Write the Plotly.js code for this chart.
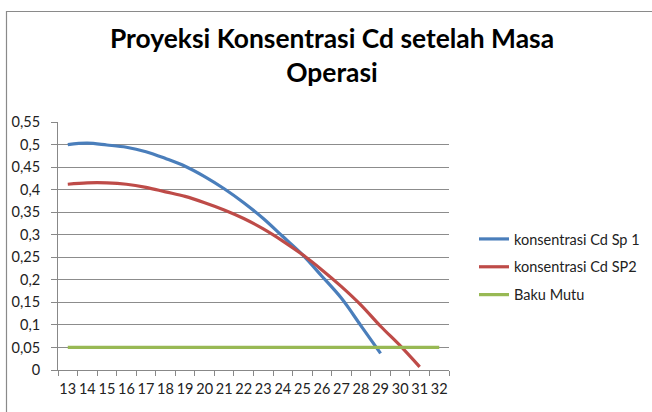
<!DOCTYPE html>
<html>
<head>
<meta charset="utf-8">
<script src="https://cdn.plot.ly/plotly-3.0.1.min.js"></script>
<style>html,body{margin:0;padding:0;background:#fff;}#chart{width:652px;height:412px;}</style>
</head>
<body>
<div id="chart"></div>
<script>
const categories = ["13","14","15","16","17","18","19","20","21","22","23","24","25","26","27","28","29","30","31","32"];
const sp1Categories = categories.slice(0, 17);
const sp1Values = [0.500, 0.503, 0.499, 0.494, 0.484, 0.469, 0.452, 0.429, 0.402, 0.371, 0.336, 0.296, 0.256, 0.208, 0.159, 0.098, 0.037];
const sp2Categories = categories.slice(0, 19);
const sp2Values = [0.412, 0.415, 0.415, 0.412, 0.405, 0.395, 0.385, 0.371, 0.355, 0.336, 0.313, 0.286, 0.256, 0.222, 0.185, 0.144, 0.097, 0.054, 0.007];
const bakuMutu = categories.map(() => 0.05);
const seriesNames = ["konsentrasi Cd Sp 1", "konsentrasi Cd SP2", "Baku Mutu"];
const titleText = "Proyeksi Konsentrasi Cd setelah Masa<br>Operasi";

const font = "Lato, 'Open Sans', sans-serif";
const traces = [
  {x: sp1Categories, y: sp1Values, name: seriesNames[0], type: "scatter", mode: "lines",
   line: {color: "#4A7EBB", width: 3.2, shape: "spline"}, legendgroup: "a"},
  {x: sp2Categories, y: sp2Values, name: seriesNames[1], type: "scatter", mode: "lines",
   line: {color: "#BE4B48", width: 3.2, shape: "spline"}, legendgroup: "b"},
  {x: categories, y: bakuMutu, name: seriesNames[2], type: "scatter", mode: "lines",
   line: {color: "#98B954", width: 3.2}, legendgroup: "c"}
];
const layout = {
  width: 652, height: 412,
  margin: {l: 58, r: 203, t: 122, b: 42, autoexpand: false},
  paper_bgcolor: "#fff", plot_bgcolor: "#fff",
  separators: ", ",
  font: {family: font, size: 14.5, color: "#222"},
  annotations: [{text: titleText, xref: "paper", yref: "paper",
                 x: (332-58)/391, xanchor: "center", y: (370-20)/248, yanchor: "top",
                 showarrow: false, align: "center",
                 font: {family: font, size: 26.4, color: "#000", weight: 700}}],
  xaxis: {type: "category", categoryorder: "array", categoryarray: categories,
          range: [-0.5, 19.5], showgrid: false, showline: true, linecolor: "#888", linewidth: 1,
          ticks: "outside", tickson: "boundaries", ticklen: 5, tickcolor: "#888", tickangle: 0,
          ticklabelstandoff: 6, automargin: false,
          tickfont: {family: font, size: 14.5, color: "#222"}, fixedrange: true},
  yaxis: {range: [0, 0.55], dtick: 0.05, tick0: 0, showgrid: true, gridcolor: "#8c8c8c", gridwidth: 1,
          showline: true, linecolor: "#888", linewidth: 1, zeroline: false, automargin: false,
          ticks: "outside", ticklen: 6, tickcolor: "#888", ticklabelstandoff: 8,
          tickfont: {family: font, size: 14.5, color: "#222"}, fixedrange: true},
  showlegend: true,
  legend: {x: 474/652, xanchor: "left", xref: "container", y: (370-267)/248, yanchor: "middle", yref: "paper",
           font: {family: font, size: 14.5, color: "#222"}, traceorder: "grouped", tracegroupgap: 6,
           bgcolor: "rgba(0,0,0,0)"},
  shapes: [{type: "rect", xref: "paper", yref: "paper",
            x0: (6.5-58)/391, x1: (660-58)/391, y0: -1, y1: (370-11.5)/248,
            line: {color: "#8a8a8a", width: 1.2}, layer: "below"}]
};
Plotly.newPlot("chart", traces, layout, {displayModeBar: false, staticPlot: true});
</script>
</body>
</html>
